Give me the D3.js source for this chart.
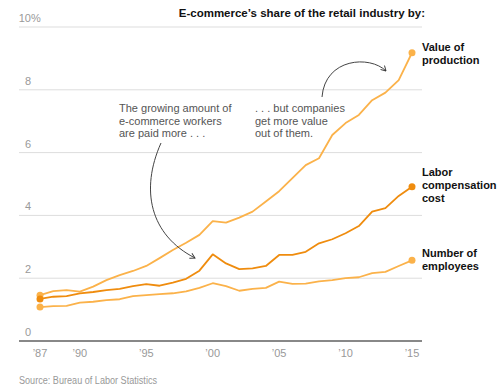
<!DOCTYPE html>
<html>
<head>
<meta charset="utf-8">
<script src="https://cdn.jsdelivr.net/npm/d3@7"></script>
<style>
  body { margin: 0; background: #fff; }
  text { font-family: "Liberation Sans", Arial, sans-serif; }
  .tick-label { fill: #999; font-size: 11px; }
  .note { fill: #555; font-size: 11px; }
  .series-label { fill: #111; font-size: 11px; font-weight: bold; }
</style>
</head>
<body>
<div id="chart"></div>
<script>
var width = 500;
var height = 390;

var years = d3.range(1987, 2016);
var yTicks = [0, 2, 4, 6, 8, 10];
var xTicks = [1987, 1990, 1995, 2000, 2005, 2010, 2015];

// share of retail industry, percent
var valueOfProduction = [1.46, 1.59, 1.62, 1.57, 1.73, 1.94, 2.1, 2.23, 2.39, 2.64,
    2.9, 3.13, 3.38, 3.82, 3.77, 3.93, 4.12, 4.44, 4.77, 5.19,
    5.6, 5.82, 6.56, 6.94, 7.2, 7.67, 7.91, 8.31, 9.18];
var laborCompensation = [1.34, 1.41, 1.43, 1.52, 1.56, 1.62, 1.66, 1.75, 1.81, 1.76,
    1.86, 1.98, 2.24, 2.76, 2.47, 2.29, 2.31, 2.39, 2.74, 2.74,
    2.84, 3.11, 3.24, 3.43, 3.66, 4.12, 4.23, 4.62, 4.91];
var numberOfEmployees = [1.08, 1.11, 1.12, 1.22, 1.25, 1.3, 1.33, 1.43, 1.46, 1.49,
    1.52, 1.58, 1.69, 1.84, 1.75, 1.6, 1.66, 1.69, 1.89, 1.82,
    1.83, 1.9, 1.94, 2.0, 2.03, 2.16, 2.2, 2.39, 2.57];

var series = [
    {name: ["Value of", "production"], values: valueOfProduction, color: "#fbb24a", labelY: 51},
    {name: ["Labor", "compensation", "cost"], values: laborCompensation, color: "#ef8c0e", labelY: 176},
    {name: ["Number of", "employees"], values: numberOfEmployees, color: "#fbb24a", labelY: 257}
];

var svg = d3.select("#chart").append("svg")
    .attr("width", width)
    .attr("height", height);

var xScale = d3.scaleLinear().domain([1987, 2015]).range([40, 412]);
var yScale = d3.scaleLinear().domain([0, 10]).range([341, 27]);

// gridlines
svg.selectAll("line.grid")
    .data(yTicks.filter(function(d) { return d > 0; }))
    .enter().append("line")
    .attr("class", "grid")
    .attr("x1", 19).attr("x2", 422)
    .attr("y1", function(d) { return yScale(d); })
    .attr("y2", function(d) { return yScale(d); })
    .attr("stroke", "#ddd")
    .attr("stroke-width", 1);

svg.selectAll("text.ylab")
    .data(yTicks)
    .enter().append("text")
    .attr("class", "tick-label ylab")
    .attr("x", 31)
    .attr("y", function(d) { return yScale(d) - 5; })
    .attr("text-anchor", "end")
    .text(function(d) { return d; });
svg.append("text")
    .attr("class", "tick-label")
    .attr("x", 31)
    .attr("y", yScale(10) - 5)
    .text("%");

// baseline
svg.append("line")
    .attr("x1", 19).attr("x2", 422)
    .attr("y1", yScale(0)).attr("y2", yScale(0))
    .attr("stroke", "#888")
    .attr("stroke-width", 2);

svg.selectAll("text.xlab")
    .data(xTicks)
    .enter().append("text")
    .attr("class", "tick-label xlab")
    .attr("x", function(d) { return xScale(d); })
    .attr("y", 357)
    .attr("text-anchor", "middle")
    .text(function(d) { return "\u2019" + String(d).slice(2); });

// lines
var line = d3.line()
    .x(function(d, i) { return xScale(years[i]); })
    .y(function(d) { return yScale(d); });

series.forEach(function(s) {
    svg.append("path")
        .attr("d", line(s.values))
        .attr("fill", "none")
        .attr("stroke", s.color)
        .attr("stroke-width", 1.8)
        .attr("stroke-linejoin", "round");
    [0, s.values.length - 1].forEach(function(i) {
        svg.append("circle")
            .attr("cx", xScale(years[i]))
            .attr("cy", yScale(s.values[i]))
            .attr("r", 3.5)
            .attr("fill", s.color);
    });
    var lab = svg.append("text")
        .attr("class", "series-label")
        .attr("x", 422)
        .attr("y", s.labelY);
    s.name.forEach(function(t, k) {
        lab.append("tspan").attr("x", 422).attr("dy", k == 0 ? 0 : 13).text(t);
    });
});

// title
svg.append("text")
    .attr("x", 425)
    .attr("y", 17)
    .attr("text-anchor", "end")
    .style("font-size", "11.5px")
    .style("font-weight", "bold")
    .attr("fill", "#111")
    .text("E-commerce\u2019s share of the retail industry by:");

// annotations
var note1 = svg.append("text").attr("class", "note").attr("x", 119).attr("y", 112);
["The growing amount of", "e-commerce workers", "are paid more . . ."].forEach(function(t, k) {
    note1.append("tspan").attr("x", 119).attr("dy", k == 0 ? 0 : 12.5).text(t);
});
var note2 = svg.append("text").attr("class", "note").attr("x", 255).attr("y", 112);
[". . . but companies", "get more value", "out of them."].forEach(function(t, k) {
    note2.append("tspan").attr("x", 255).attr("dy", k == 0 ? 0 : 12.5).text(t);
});

svg.append("defs").append("marker")
    .attr("id", "arrow")
    .attr("viewBox", "0 0 10 10")
    .attr("refX", 8).attr("refY", 5)
    .attr("markerWidth", 7).attr("markerHeight", 7)
    .attr("orient", "auto")
    .append("path")
    .attr("d", "M1,1 L8,5 L1,9")
    .attr("fill", "none")
    .attr("stroke", "#333")
    .attr("stroke-width", 1.3);

svg.append("path")
    .attr("d", "M161,143 C140,190 150,235 195,258")
    .attr("fill", "none")
    .attr("stroke", "#444")
    .attr("stroke-width", 1)
    .attr("marker-end", "url(#arrow)");

svg.append("path")
    .attr("d", "M322,97 C325,58 370,55 386,71")
    .attr("fill", "none")
    .attr("stroke", "#444")
    .attr("stroke-width", 1)
    .attr("marker-end", "url(#arrow)");

svg.append("text")
    .attr("x", 19)
    .attr("y", 384)
    .attr("fill", "#999")
    .style("font-size", "10px")
    .attr("textLength", 138)
    .attr("lengthAdjust", "spacingAndGlyphs")
    .text("Source: Bureau of Labor Statistics");
</script>
</body>
</html>
